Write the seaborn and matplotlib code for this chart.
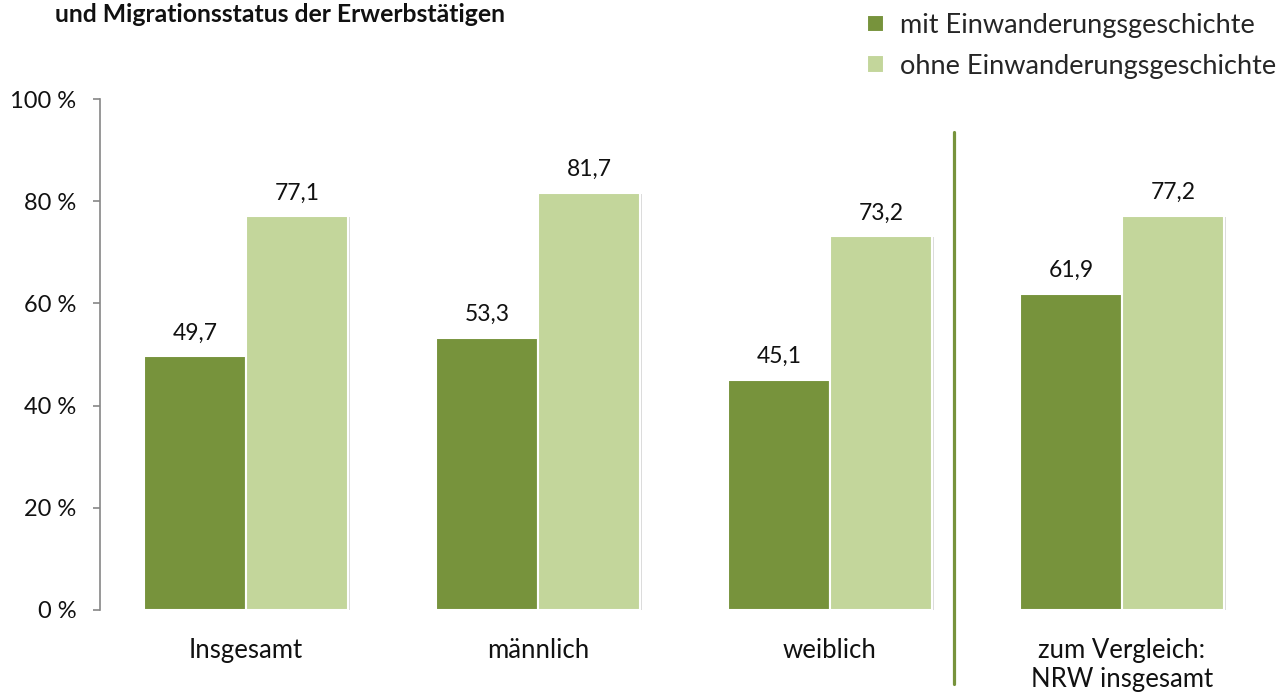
import pandas as pd
import matplotlib.pyplot as plt
import matplotlib.patheffects as pe
import seaborn as sns

# data
gruppen = ['Insgesamt', 'männlich', 'weiblich', 'zum Vergleich:\nNRW insgesamt']
mit_einw = [49.7, 53.3, 45.1, 61.9]
ohne_einw = [77.1, 81.7, 73.2, 77.2]
serien = ['mit Einwanderungsgeschichte', 'ohne Einwanderungsgeschichte']
y_ticks = [0, 20, 40, 60, 80, 100]

df = pd.DataFrame({
    'Gruppe': gruppen * 2,
    'Anteil': mit_einw + ohne_einw,
    'Status': [serien[0]] * len(gruppen) + [serien[1]] * len(gruppen),
})

dunkel = '#77933C'
hell = '#C3D69B'

sns.set_style('white')
plt.rcParams['font.family'] = ['Lato', 'DejaVu Sans']

fig = plt.figure(figsize=(12.86, 6.92), dpi=100)
ax = fig.add_axes([100 / 1286, 1 - 610 / 692, 1168 / 1286, 511 / 692])

sns.barplot(data=df, x='Gruppe', y='Anteil', hue='Status', palette=[dunkel, hell],
            width=0.7, saturation=1, edgecolor='white', linewidth=1.5, ax=ax)

for bar in ax.patches:
    bar.set_path_effects([pe.SimplePatchShadow(offset=(1, -1), shadow_rgbFace='#999999', alpha=0.35),
                          pe.Normal()])

for cont in ax.containers:
    ax.bar_label(cont, labels=[f'{v:.1f}'.replace('.', ',') for v in cont.datavalues],
                 padding=9, fontsize=16.5, color='#111111')

ax.set_xlim(-0.5, 3.5)
ax.set_ylim(0, 100)
ax.set_yticks(y_ticks)
ax.set_yticklabels([f'{t} %' for t in y_ticks])
ax.set_xlabel('')
ax.set_ylabel('')

sns.despine(ax=ax, top=True, right=True, bottom=True)
ax.spines['left'].set_color('#868686')
ax.spines['left'].set_linewidth(1.2)
ax.tick_params(axis='y', which='both', left=True, length=5, width=1.2, color='#868686',
               labelsize=17, labelcolor='#111111', pad=12)
ax.tick_params(axis='x', bottom=False, labelsize=18.5, labelcolor='#111111', pad=17)

# separator line before the NRW comparison
ax.plot([2.424, 2.424], [0.935, -0.145], color=dunkel, lw=2.3,
        transform=ax.get_xaxis_transform(), clip_on=False)

sns.move_legend(ax, 'upper left', bbox_to_anchor=(862 / 1286, 1 - 8 / 692), bbox_transform=fig.transFigure,
                frameon=False, title=None, fontsize=19.5, handlelength=0.6, handleheight=0.6,
                handletextpad=0.6, labelspacing=0.56, borderaxespad=0, borderpad=0.2)

fig.text(55 / 1286, 1 - 15 / 692, 'und Migrationsstatus der Erwerbstätigen', fontsize=17.8,
         fontweight='bold', ha='left', va='center', color='#111111')

fig.savefig('out.png', dpi=100)
